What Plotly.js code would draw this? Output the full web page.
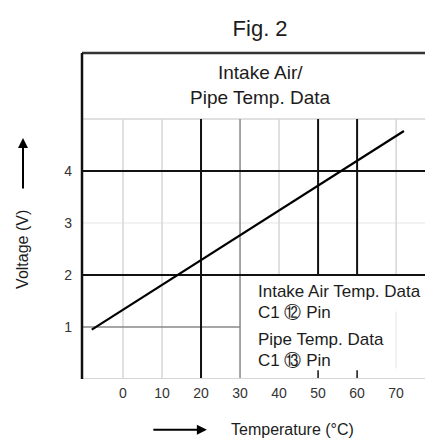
<!DOCTYPE html>
<html>
<head>
<meta charset="utf-8">
<script src="https://cdn.plot.ly/plotly-3.0.1.min.js"></script>
<style>html,body{margin:0;padding:0;background:#fff;}#chart{width:425px;height:442px;}</style>
</head>
<body>
<div id="chart"></div>
<script>
// ---- data ----
const tempX = [-8, 72];          // temperature (°C) at the line ends
const voltY = [0.95, 4.77];      // voltage (V) at the line ends
const xTicks = [0, 10, 20, 30, 40, 50, 60, 70];
const yTicks = [1, 2, 3, 4];
const figTitle = 'Fig. 2';
const boxTitle = ['Intake Air/', 'Pipe Temp. Data'];
const noteLines = ['Intake Air Temp. Data', 'C1 ⑫ Pin', 'Pipe Temp. Data', 'C1 ⑬ Pin'];
const xTitle = 'Temperature (°C)';
const yTitle = 'Voltage (V)';

// ---- layout helpers ----
const X0 = -10.5, X1 = 77.4, Y0 = 0, Y1 = 6.27;
const DARK = '#111', MID = '#888', LIGHT = '#d6d6d6', FAINT = '#eeeeee';
function vline(x, ya, yb, color, w) {
  return {type: 'line', xref: 'x', yref: 'y', x0: x, x1: x, y0: ya, y1: yb, line: {color: color, width: w}, layer: 'below'};
}
function hline(y, xa, xb, color, w) {
  return {type: 'line', xref: 'x', yref: 'y', x0: xa, x1: xb, y0: y, y1: y, line: {color: color, width: w}, layer: 'below'};
}
const shapes = [
  hline(3, X0, X1, FAINT, 1.5),
  hline(5, X0, X1, LIGHT, 1.5),
  vline(0, 0, 5, LIGHT, 1.5),
  vline(10, 0, 5, LIGHT, 1.5),
  vline(40, 2, 5, LIGHT, 1.5),
  vline(70, 2, 5, LIGHT, 1.5),
  vline(70, 0.2, 1.3, FAINT, 1.5),
  vline(30, 0, 5, MID, 1.5),
  hline(1, X0, 30, MID, 1.5),
  vline(20, 0, 5, DARK, 2),
  vline(50, 2, 5, DARK, 2),
  vline(60, 2, 5, DARK, 2),
  vline(50, 0, 0.17, DARK, 1.5),
  vline(60, 0, 0.17, DARK, 1.5),
  hline(4, X0, X1, DARK, 2),
  hline(2, X0, X1, DARK, 2),
  hline(0, X0, X1, LIGHT, 2),
  {type: 'line', xref: 'paper', yref: 'paper', x0: 0, x1: 1, y0: 1, y1: 1, line: {color: '#333', width: 2.5}},
  {type: 'line', xref: 'paper', yref: 'paper', x0: 0, x1: 0, y0: 0, y1: 1, line: {color: DARK, width: 2.5}}
];

const F = 'Liberation Sans, Arial, sans-serif';
const TXT = '#1c1c1c';
const annotations = [
  {xref: 'paper', yref: 'paper', x: 0.519, y: 0.939, text: boxTitle[0], showarrow: false, xanchor: 'center', yanchor: 'middle', font: {family: F, size: 19, color: TXT}},
  {xref: 'paper', yref: 'paper', x: 0.519, y: 0.862, text: boxTitle[1], showarrow: false, xanchor: 'center', yanchor: 'middle', font: {family: F, size: 19, color: TXT}},
  {xref: 'paper', yref: 'paper', x: 0.506, y: 0.267, text: noteLines[0], showarrow: false, xanchor: 'left', yanchor: 'middle', font: {family: F, size: 17, color: TXT}},
  {xref: 'paper', yref: 'paper', x: 0.506, y: 0.203, text: noteLines[1], showarrow: false, xanchor: 'left', yanchor: 'middle', font: {family: F, size: 17, color: TXT}},
  {xref: 'paper', yref: 'paper', x: 0.506, y: 0.120, text: noteLines[2], showarrow: false, xanchor: 'left', yanchor: 'middle', font: {family: F, size: 17, color: TXT}},
  {xref: 'paper', yref: 'paper', x: 0.506, y: 0.056, text: noteLines[3], showarrow: false, xanchor: 'left', yanchor: 'middle', font: {family: F, size: 17, color: TXT}},
  // axis titles with arrows
  {xref: 'paper', yref: 'paper', x: 0.615, y: -0.156, text: xTitle, showarrow: false, xanchor: 'center', yanchor: 'middle', font: {family: F, size: 16, color: TXT}},
  {xref: 'paper', yref: 'paper', x: 0.364, y: -0.156, text: '', showarrow: true, ax: -55, ay: 0, arrowhead: 2, arrowsize: 1, arrowwidth: 2, arrowcolor: '#000'},
  {xref: 'paper', yref: 'paper', x: -0.172, y: 0.396, text: yTitle, textangle: -90, showarrow: false, xanchor: 'center', yanchor: 'middle', font: {family: F, size: 16, color: TXT}},
  {xref: 'paper', yref: 'paper', x: -0.172, y: 0.739, text: '', showarrow: true, ax: 0, ay: 52, arrowhead: 2, arrowsize: 1, arrowwidth: 2, arrowcolor: '#000'}
];

const trace = {
  x: tempX, y: voltY, type: 'scatter', mode: 'lines',
  line: {color: '#000', width: 2.2}, hoverinfo: 'skip', showlegend: false
};

const layout = {
  width: 425, height: 442,
  margin: {l: 82, r: 0, t: 53, b: 63, pad: 0},
  paper_bgcolor: '#fff', plot_bgcolor: '#fff',
  title: {text: figTitle, x: 0.612, xanchor: 'center', y: 0.937, yanchor: 'middle', font: {family: F, size: 22, color: TXT}},
  xaxis: {range: [X0, X1], tickvals: xTicks, ticktext: xTicks.map(String), showgrid: false, zeroline: false, showline: false, ticks: '', ticklabelstandoff: 4, tickfont: {family: F, size: 14, color: '#333'}, fixedrange: true},
  yaxis: {range: [Y0, Y1], tickvals: yTicks, ticktext: yTicks.map(String), showgrid: false, zeroline: false, showline: false, ticks: '', ticklabelstandoff: 9, tickfont: {family: F, size: 14, color: '#333'}, fixedrange: true},
  shapes: shapes,
  annotations: annotations,
  showlegend: false
};

Plotly.newPlot('chart', [trace], layout, {displayModeBar: false, staticPlot: true});
</script>
</body>
</html>
